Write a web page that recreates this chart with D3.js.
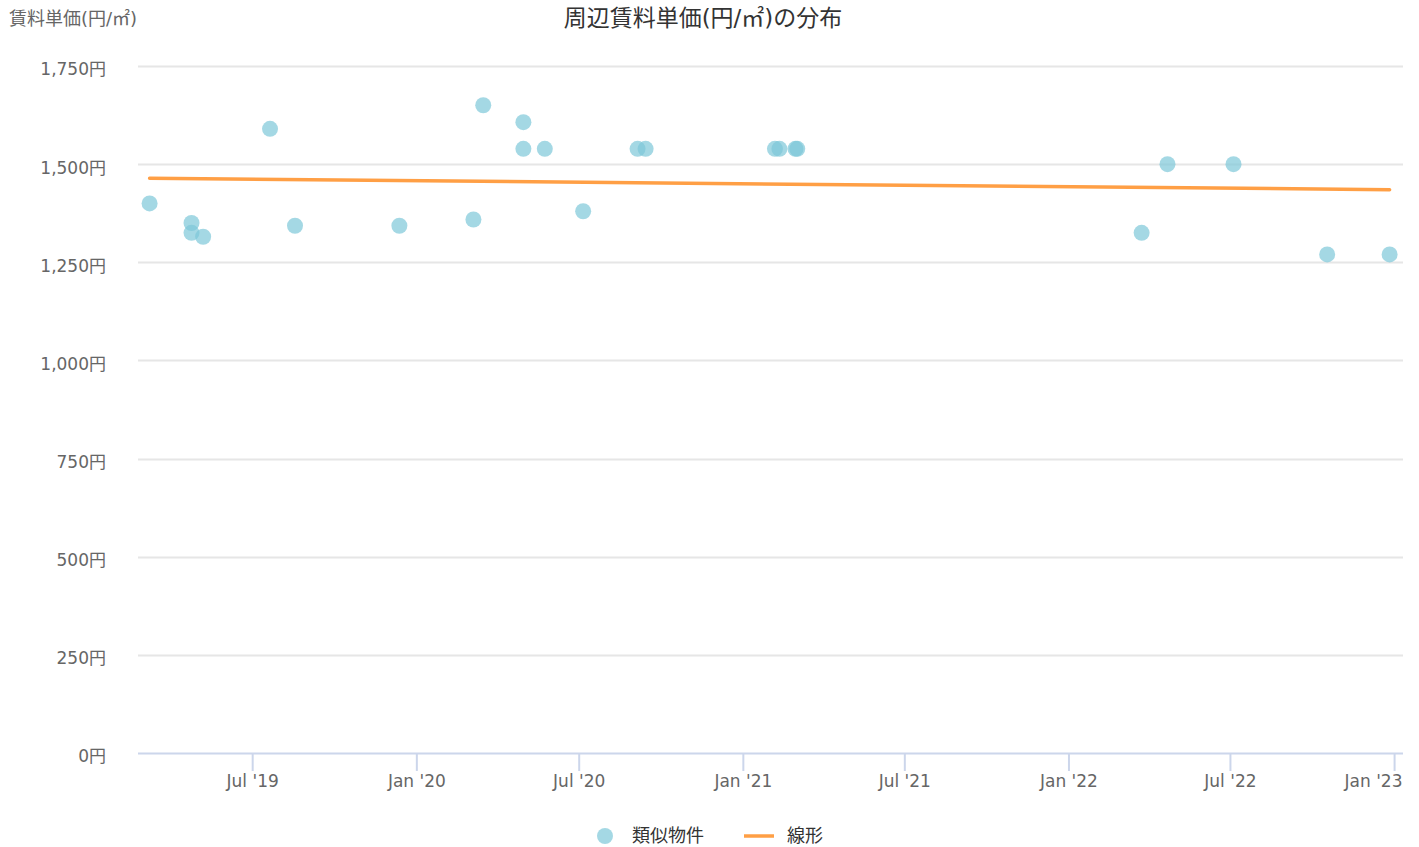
<!DOCTYPE html>
<html>
<head>
<meta charset="utf-8">
<script src="https://cdn.jsdelivr.net/npm/d3@7"></script>
<style>
  body { margin: 0; background: #fff; }
  svg text { font-family: "DejaVu Sans", "Noto Sans CJK JP", sans-serif; }
</style>
</head>
<body>
<div id="chart"></div>
<script>
// similar listings: contract date and rent per m2
const pointDates = [
    "2019-03-08", "2019-04-24", "2019-04-24", "2019-05-07", "2019-07-21", "2019-08-18",
    "2019-12-13", "2020-03-05", "2020-03-16", "2020-04-30", "2020-04-30", "2020-05-24",
    "2020-07-06", "2020-09-05", "2020-09-14", "2021-02-06", "2021-02-11", "2021-03-01",
    "2021-03-03", "2022-03-24", "2022-04-22", "2022-07-05", "2022-10-18", "2022-12-27"
];
const pointValues = [
    1400, 1350, 1325, 1315, 1590, 1343,
    1343, 1359, 1650, 1607, 1539, 1539,
    1380, 1539, 1539, 1539, 1539, 1539,
    1539, 1325, 1500, 1500, 1270, 1270
];
// linear trend endpoints
const trendDates = ["2019-03-08", "2022-12-27"];
const trendValues = [1464, 1435];

const yTicks = [0, 250, 500, 750, 1000, 1250, 1500, 1750];
const xTicks = ["2019-07-01", "2020-01-01", "2020-07-01", "2021-01-01",
                "2021-07-01", "2022-01-01", "2022-07-01", "2023-01-01"];
const monthNames = ["Jan", "Feb", "Mar", "Apr", "May", "Jun", "Jul", "Aug", "Sep", "Oct", "Nov", "Dec"];

const width = 1419, height = 847;
const plot = { left: 138, right: 1403, top: 66, bottom: 753 };
const parse = d3.utcParse("%Y-%m-%d");

const svg = d3.select("#chart").append("svg")
    .attr("width", width)
    .attr("height", height);

const x = d3.scaleUtc()
    .domain([parse("2019-02-23"), parse("2023-01-11")])
    .range([plot.left, plot.right]);

const y = d3.scaleLinear()
    .domain([0, 1750])
    .range([plot.bottom, plot.top]);

// gridlines
svg.append("g")
    .selectAll("line")
    .data(yTicks.filter(d => d > 0))
    .enter().append("line")
    .attr("x1", plot.left).attr("x2", plot.right)
    .attr("y1", d => Math.round(y(d)) + 0.5)
    .attr("y2", d => Math.round(y(d)) + 0.5)
    .attr("stroke", "#e6e6e6")
    .attr("stroke-width", 2);

// y axis labels
const yAxis = d3.axisLeft(y)
    .tickValues(yTicks)
    .tickSize(0)
    .tickPadding(0)
    .tickFormat(d => d3.format(",")(d) + "円");

svg.append("g")
    .attr("transform", "translate(106,3)")
    .call(yAxis)
    .call(g => g.select(".domain").remove())
    .selectAll("text")
    .attr("dy", "0.35em")
    .style("font-size", "17px")
    .style("fill", "#666");

// x axis
const xAxis = d3.axisBottom(x)
    .tickValues(xTicks.map(parse))
    .tickSize(18)
    .tickPadding(4)
    .tickFormat(d => monthNames[d.getUTCMonth()] + " '" + String(d.getUTCFullYear()).slice(2));

const gx = svg.append("g")
    .attr("transform", `translate(0,${plot.bottom})`)
    .call(xAxis);
gx.select(".domain")
    .attr("d", `M${plot.left},0.5H${plot.right}`)
    .attr("stroke", "#ccd6eb")
    .attr("stroke-width", 2);
gx.selectAll(".tick line")
    .attr("stroke", "#ccd6eb")
    .attr("stroke-width", 2);
gx.selectAll("text")
    .style("font-size", "17px")
    .style("fill", "#666");
// keep the last label inside the plot edge
gx.selectAll(".tick").filter((d, i, n) => i === n.length - 1)
    .select("text")
    .attr("text-anchor", "end")
    .attr("x", plot.right - 1 - x(parse(xTicks[xTicks.length - 1])));

// trend line
const line = d3.line()
    .x((d, i) => x(parse(trendDates[i])))
    .y(d => y(d));

svg.append("path")
    .datum(trendValues)
    .attr("d", line)
    .attr("fill", "none")
    .attr("stroke", "#ff9f45")
    .attr("stroke-width", 3.5)
    .attr("stroke-linecap", "round");

// scatter points
svg.append("g")
    .selectAll("circle")
    .data(pointValues)
    .enter().append("circle")
    .attr("cx", (d, i) => x(parse(pointDates[i])))
    .attr("cy", d => y(d))
    .attr("r", 8)
    .attr("fill", "rgb(125,199,216)")
    .attr("fill-opacity", 0.7);

// titles
svg.append("text")
    .attr("x", 703).attr("y", 26)
    .attr("text-anchor", "middle")
    .style("font-size", "23px")
    .style("fill", "#333")
    .text("周辺賃料単価(円/㎡)の分布");

svg.append("text")
    .attr("x", 9).attr("y", 25)
    .style("font-size", "18px")
    .style("fill", "#666")
    .text("賃料単価(円/㎡)");

// legend
const legend = svg.append("g");
legend.append("circle")
    .attr("cx", 605).attr("cy", 836).attr("r", 8)
    .attr("fill", "rgb(125,199,216)")
    .attr("fill-opacity", 0.7);
legend.append("text")
    .attr("x", 632).attr("y", 842)
    .style("font-size", "18px")
    .style("fill", "#333")
    .text("類似物件");
legend.append("line")
    .attr("x1", 744).attr("x2", 774)
    .attr("y1", 836).attr("y2", 836)
    .attr("stroke", "#ff9f45")
    .attr("stroke-width", 3.5);
legend.append("text")
    .attr("x", 787).attr("y", 842)
    .style("font-size", "18px")
    .style("fill", "#333")
    .text("線形");
</script>
</body>
</html>
